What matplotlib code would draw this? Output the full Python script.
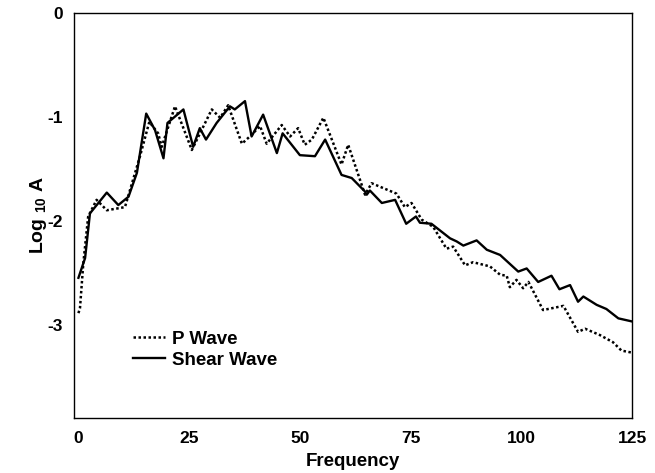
import matplotlib
matplotlib.use("Agg")
import matplotlib.pyplot as plt

# spectra, log10 amplitude vs frequency
p_freq = [0, 0.35, 1.1, 2.2, 4.1, 6.4, 10.5, 13.9, 16.0, 18.0, 18.8, 21.8, 25.6,
          30.1, 32.0, 33.8, 36.9, 38.7, 41.0, 42.5, 45.9, 47.8, 49.6, 51.1, 52.7,
          55.3, 59.4, 60.9, 64.7, 66.2, 71.8, 73.7, 75.2, 77.5, 80.1, 83.1, 84.6,
          87.3, 89.1, 92.9, 95.2, 96.7, 97.4, 98.9, 100.4, 101.6, 104.9, 109.5,
          112.8, 114.4, 117.7, 120.7, 122.6, 125]
p_amp = [-2.89, -2.84, -2.41, -1.96, -1.80, -1.90, -1.87, -1.38, -1.05, -1.16,
         -1.29, -0.90, -1.32, -0.93, -1.01, -0.89, -1.26, -1.19, -1.09, -1.26,
         -1.08, -1.19, -1.11, -1.27, -1.22, -1.01, -1.46, -1.27, -1.75, -1.64,
         -1.74, -1.87, -1.83, -1.99, -2.06, -2.27, -2.25, -2.43, -2.40, -2.44,
         -2.52, -2.53, -2.64, -2.57, -2.65, -2.59, -2.86, -2.82, -3.07, -3.04,
         -3.10, -3.17, -3.25, -3.27]

s_freq = [0, 1.5, 2.6, 6.4, 9.0, 11.3, 13.2, 15.3, 17.3, 19.2, 20.1, 23.7, 25.9,
          27.4, 28.8, 31.2, 34.2, 35.3, 37.6, 39.1, 41.7, 44.8, 46.1, 50.0, 53.4,
          55.7, 59.4, 61.7, 64.7, 65.1, 65.8, 68.5, 71.5, 74.0, 76.2, 77.1, 79.7,
          83.9, 85.4, 86.9, 89.9, 92.2, 95.2, 99.3, 101.2, 103.8, 106.8, 108.6,
          111.0, 112.8, 114.0, 117.0, 119.2, 121.9, 125]
s_amp = [-2.55, -2.36, -1.93, -1.73, -1.85, -1.77, -1.54, -0.97, -1.13, -1.40,
         -1.06, -0.93, -1.29, -1.11, -1.22, -1.06, -0.90, -0.93, -0.85, -1.19,
         -0.98, -1.35, -1.16, -1.37, -1.38, -1.22, -1.56, -1.59, -1.72, -1.75,
         -1.71, -1.83, -1.80, -2.03, -1.96, -2.02, -2.03, -2.17, -2.20, -2.24,
         -2.19, -2.28, -2.33, -2.49, -2.46, -2.59, -2.53, -2.66, -2.62, -2.78,
         -2.73, -2.81, -2.85, -2.94, -2.97]

x_ticks = [0, 25, 50, 75, 100, 125]
y_ticks = [0, -1, -2, -3]

plt.rcParams["font.family"] = "Liberation Sans"
plt.rcParams["font.weight"] = "bold"
plt.rcParams["mathtext.fontset"] = "custom"
plt.rcParams["mathtext.rm"] = "Liberation Sans:bold"
plt.rcParams["mathtext.it"] = "Liberation Sans:bold"
plt.rcParams["mathtext.bf"] = "Liberation Sans:bold"

fig = plt.figure(figsize=(6.55, 4.73), dpi=100)
ax = fig.add_axes([0.113, 0.116, 0.852, 0.857])

ax.plot(p_freq, p_amp, color="black", linestyle=(0, (1, 1)), linewidth=1.8,
        label="P Wave")
ax.plot(s_freq, s_amp, color="black", linestyle="-", linewidth=1.7,
        label="Shear Wave")

ax.set_xlim(-1, 125)
ax.set_ylim(-3.9, 0)
ax.set_xticks(x_ticks)
ax.set_yticks(y_ticks)
ax.set_yticklabels([str(t) for t in y_ticks])
ax.tick_params(length=0, labelsize=12.5)
ax.tick_params(axis="x", pad=9)
ax.tick_params(axis="y", pad=8)
for lbl in ax.get_xticklabels() + ax.get_yticklabels():
    lbl.set_fontweight("bold")

for sp in ax.spines.values():
    sp.set_linewidth(1.0)

ax.set_xlabel("Frequency", fontsize=13.5, fontweight="bold", labelpad=5)
ax.set_ylabel("Log $_{10}$ A", fontsize=14, fontweight="bold", labelpad=-1)

leg = ax.legend(loc="upper left", bbox_to_anchor=(0.075, 0.257), frameon=False,
                handlelength=1.7, handletextpad=0.4, labelspacing=0.2,
                prop={"family": "Liberation Sans", "weight": "bold", "size": 13.5})

fig.savefig("out.png", dpi=100)
